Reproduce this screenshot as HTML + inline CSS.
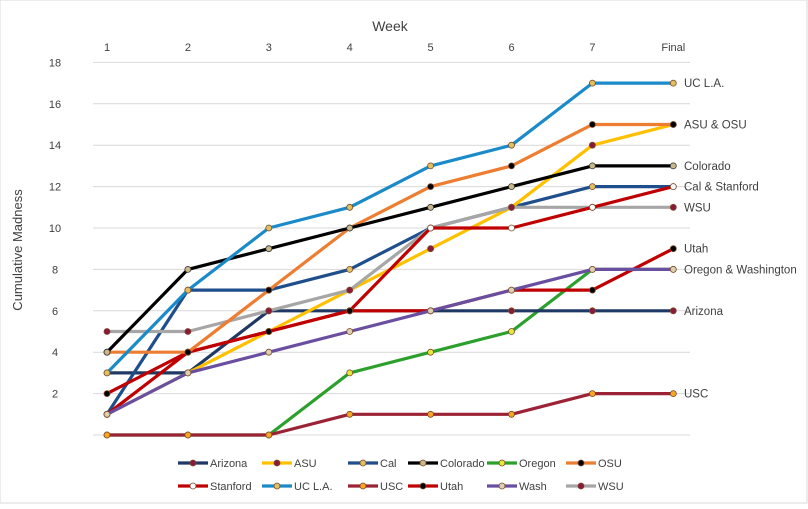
<!DOCTYPE html>
<html><head><meta charset="utf-8"><style>
body{margin:0;background:#fff;font-family:"Liberation Sans",sans-serif;}
svg text{font-family:"Liberation Sans",sans-serif;fill:#404040;}
</style></head><body>
<svg id="chart" width="808" height="504">
<rect x="0" y="0" width="807" height="503" fill="#fff" stroke="#d9d9d9"/>
<g id="grid"></g><g id="series"></g><g id="labels"></g><g id="legend"></g>
</svg>
<script>
const categories=["1","2","3","4","5","6","7","Final"];
const yTicks=[2,4,6,8,10,12,14,16,18];
const names=["Arizona","ASU","Cal","Colorado","Oregon","OSU","Stanford","UC L.A.","USC","Utah","Wash","WSU"];
const arizona=[3,3,6,6,6,6,6,6];
const asu=[1,3,5,7,9,11,14,15];
const cal=[1,7,7,8,10,11,12,12];
const colorado=[4,8,9,10,11,12,13,13];
const oregon=[0,0,0,3,4,5,8,8];
const osu=[4,4,7,10,12,13,15,15];
const stanford=[1,4,5,6,10,10,11,12];
const ucla=[3,7,10,11,13,14,17,17];
const usc=[0,0,0,1,1,1,2,2];
const utah=[2,4,5,6,6,7,7,9];
const wash=[1,3,4,5,6,7,8,8];
const wsu=[5,5,6,7,10,11,11,11];
const endLabels=["UC L.A.","ASU & OSU","Colorado","Cal & Stanford","WSU","Utah","Oregon & Washington","Arizona","USC"];
const endValues=[17,15,13,12,11,9,8,6,2];
const seriesValues=[arizona,asu,cal,colorado,oregon,osu,stanford,ucla,usc,utah,wash,wsu];
const lineColors=["#1f3864","#ffc000","#1f4e8c","#000000","#2ca02c","#ed7d31","#c00000","#1b8ac9","#9b2335","#c00000","#6a4fa0","#a6a6a6"];
const markColors=["#8b1a3a","#8b1a3a","#e0c060","#c9b88a","#e8e83a","#000000","#ffffff","#e0c060","#f5a623","#000000","#ddd0b0","#8b1a3a"];
const NS="http://www.w3.org/2000/svg";
const x=i=>107+i*80.9;
const y=v=>435-v*20.7;
function mk(tag,attrs,parent,text){const e=document.createElementNS(NS,tag);for(const k in attrs)e.setAttribute(k,attrs[k]);if(text!==undefined)e.textContent=text;parent.appendChild(e);return e;}
const grid=document.getElementById('grid');
yTicks.forEach(t=>{
  const l=mk('line',{x1:93,x2:690,y1:y(t),y2:y(t),stroke:'#d9d9d9','stroke-width':1},grid);
  
  
  const tx=mk('text',{x:55,y:y(t)+4,'font-size':11,'text-anchor':'middle'},grid,String(t));
  
  
});
const base=mk('line',{x1:93,x2:690,y1:y(0),y2:y(0),stroke:'#d9d9d9'},grid);


categories.forEach((c,i)=>{
  const t=mk('text',{x:x(i),y:51,'font-size':11,'text-anchor':'middle'},grid,c);
  
  
});
const xt=mk('text',{x:390,y:31,'font-size':14,'text-anchor':'middle'},grid,'Week');


const yt=mk('text',{x:22,y:250,'font-size':13,'text-anchor':'middle',transform:'rotate(-90 22 250)'},grid,'Cumulative Madness');


const sg=document.getElementById('series');
const order=[4,8,0,2,1,11,6,9,5,3,7,10];
order.forEach(s=>{
  const g=mk('g',{},sg);
  
  
  const pts=seriesValues[s].map((v,i)=>x(i)+','+y(v)).join(' ');
  mk('polyline',{points:pts,fill:'none',stroke:lineColors[s],'stroke-width':3.2,'stroke-linejoin':'round'},g);
  seriesValues[s].forEach((v,i)=>{
    const c=mk('circle',{cx:x(i),cy:y(v),r:3,fill:markColors[s],stroke:lineColors[s]==='#000000'?'#333':'#7a4a2a','stroke-width':0.8},g);
    
    
  });
});
const lg=document.getElementById('labels');
endLabels.forEach((t,i)=>{
  const e=mk('text',{x:684,y:y(endValues[i])+4,'font-size':11.5,fill:'#000'},lg,t);
  
  
});
const leg=document.getElementById('legend');
const lx=[178,262,348,408,487,566];
names.forEach((n,i)=>{
  const cx=lx[i%6], cy=i<6?463:486;
  const g=mk('g',{},leg);
  
  
  mk('line',{x1:cx,x2:cx+30,y1:cy,y2:cy,stroke:lineColors[i],'stroke-width':3.2},g);
  mk('circle',{cx:cx+15,cy:cy,r:3,fill:markColors[i],stroke:'#7a4a2a','stroke-width':0.8},g);
  mk('text',{x:cx+32,y:cy+4,'font-size':11},g,n);
});
</script>
</body></html>
